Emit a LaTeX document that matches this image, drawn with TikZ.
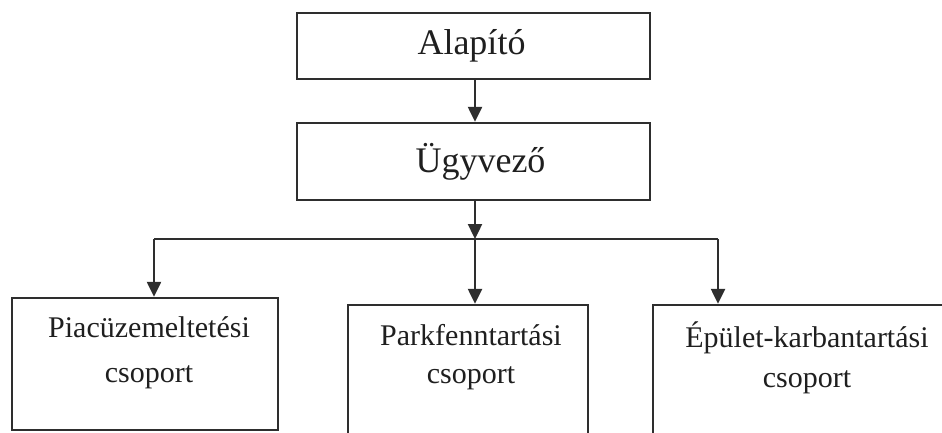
\documentclass[tikz,border=0pt]{standalone}
\usepackage{fontspec}
\setmainfont{Liberation Serif}
\usetikzlibrary{arrows.meta}
\begin{document}
\begin{tikzpicture}[x=1pt,y=-1pt,
  box/.style={draw=black!82,line width=2.4pt,rectangle,inner sep=0pt},
  toptext/.style={text=black!88,font=\fontsize{36}{42}\selectfont},
  lowtext/.style={text=black!88,font=\fontsize{30}{38}\selectfont,align=center,anchor=base,inner sep=0pt},
  conn/.style={draw=black!82,line width=2.4pt},
  arr/.style={conn,-{Triangle[width=14pt,length=15pt]}}]
\useasboundingbox (0,0) rectangle (942,433);
\clip (0,0) rectangle (942,433);
% boxes
\node[box,minimum width=353pt,minimum height=66pt,toptext] (alap) at (473.5,46) {Alapító\hspace*{4pt}};
\node[box,minimum width=353pt,minimum height=77pt,toptext] (ugy) at (473.5,161.5) {\hspace*{14pt}Ügyvező};
\node[box,minimum width=266pt,minimum height=132pt] (piac) at (145,364) {};
\node[box,minimum width=240pt,minimum height=150pt] (park) at (468,380) {};
\node[box,minimum width=310pt,minimum height=150pt] (epul) at (808,380) {};
% texts
\node[lowtext] (tpiac) at (149,382) {Piacüzemeltetési\\[7pt]csoport};
\node[lowtext] (tpark) at (471,383) {Parkfenntartási\\[0pt]csoport};
\node[lowtext] (tepul) at (807,387) {Épület-karbantartási\\[2pt]csoport};
% connectors
\coordinate (j) at (475,239);
\coordinate (bl) at (154,239);
\coordinate (br) at (718,239);
\draw[arr] (alap.south -| j) -- (ugy.north -| j);
\draw[arr] (ugy.south -| j) -- (j);
\draw[conn] (bl) -- (br);
\draw[arr] (bl) -- (bl |- piac.north);
\draw[arr] (j) -- (j |- park.north);
\draw[arr] (br) -- (br |- epul.north);
\end{tikzpicture}
\end{document}
